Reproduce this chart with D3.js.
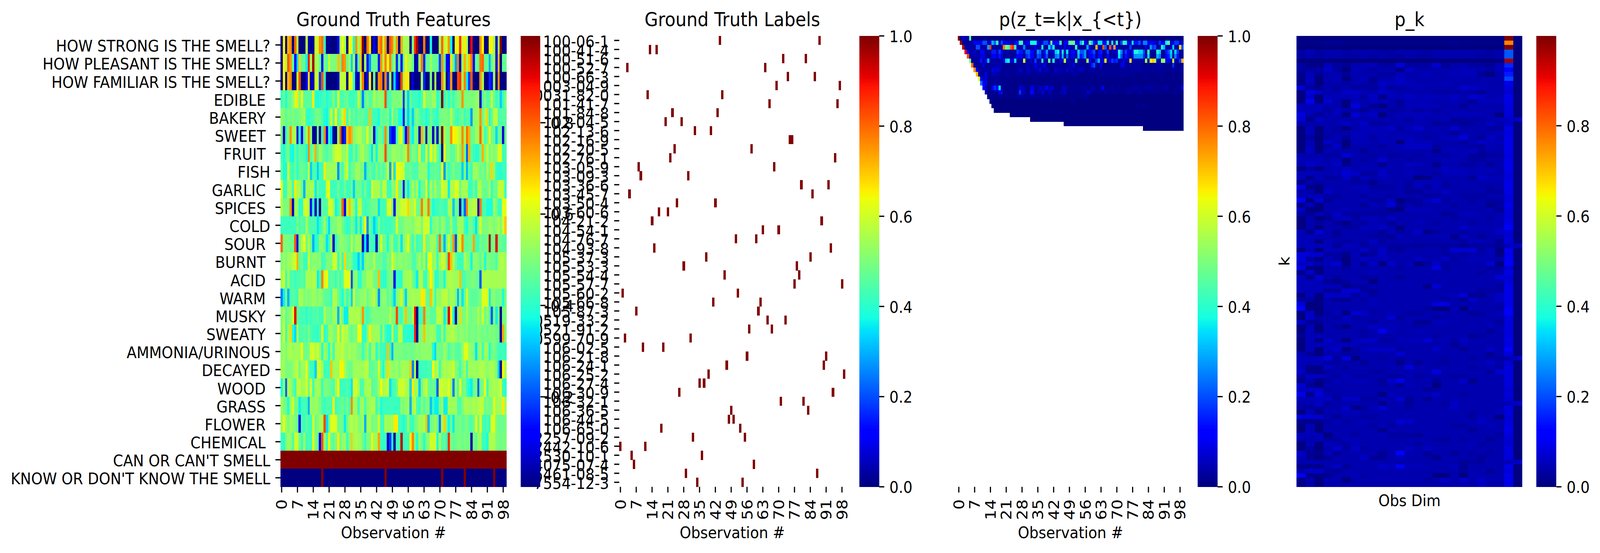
<!DOCTYPE html>
<html><head><meta charset="utf-8">
<script src="https://cdn.jsdelivr.net/npm/d3@7"></script>
<style>html,body{margin:0;padding:0;background:#fff;overflow:hidden;width:100%;height:100%}svg{display:block;width:100vw;height:100vh}text{font-family:"DejaVu Sans";fill:#000;white-space:pre}</style>
</head><body><svg id="c" viewBox="0 0 4586 1416" preserveAspectRatio="none"></svg>
<script>
// ---- values in percent ----
const featureNames=["HOW STRONG IS THE SMELL?","HOW PLEASANT IS THE SMELL?","HOW FAMILIAR IS THE SMELL?","EDIBLE ","BAKERY ","SWEET ","FRUIT ","FISH","GARLIC ","SPICES ","COLD","SOUR ","BURNT ","ACID ","WARM ","MUSKY ","SWEATY ","AMMONIA/URINOUS","DECAYED","WOOD ","GRASS ","FLOWER ","CHEMICAL ","CAN OR CAN'T SMELL","KNOW OR DON'T KNOW THE SMELL"];
const strongRow=[0,65,0,72,76,0,80,58,0,0,0,58,5,2,2,60,60,76,79,42,0,2,0,0,0,11,55,63,55,0,64,64,37,75,55,70,100,0,78,67,0,11,0,75,80,60,75,0,82,77,55,75,0,73,55,55,55,0,50,87,97,0,0,78,0,0,38,0,0,0,55,80,58,60,75,37,0,65,62,86,60,66,55,0,90,0,0,0,76,65,0,0,65,65,55,6,55,100,0,0];
const pleasantRow=[0,65,55,82,75,47,12,33,68,47,47,36,88,55,97,55,55,47,15,50,45,60,50,50,50,70,47,77,75,47,54,33,54,17,47,70,0,55,14,27,47,47,47,15,75,58,77,62,77,47,54,17,47,15,47,65,55,55,47,2,5,55,78,17,47,47,54,47,47,47,20,75,47,10,10,67,47,28,78,5,55,72,55,70,78,14,47,47,78,80,47,47,30,47,55,10,72,0,47,47];
const familiarRow=[0,65,0,72,76,0,0,60,82,0,0,11,68,5,5,60,60,18,82,42,0,0,0,0,0,6,58,58,58,0,63,63,40,5,5,58,78,0,13,66,0,50,0,76,78,0,77,16,55,0,33,12,0,83,56,66,66,0,8,0,0,0,55,16,0,0,50,0,55,0,3,76,56,0,15,75,0,0,83,86,55,77,36,18,82,0,0,0,75,55,0,0,16,13,55,0,76,0,0,0];
const edibleRow=[42,47,38,47,47,52,60,66,50,62,46,46,46,46,66,40,38,40,42,44,39,42,44,50,42,60,44,44,46,48,42,42,42,44,58,47,25,46,50,44,47,56,50,52,52,52,82,42,44,50,50,50,50,52,18,50,33,47,42,42,42,39,44,60,50,50,50,54,54,40,44,100,42,47,40,47,42,47,50,50,75,50,50,50,50,50,52,55,7,46,50,44,47,58,47,42,46,33,42,50];
const bakeryRow=[52,50,46,50,48,50,48,48,50,52,55,42,40,42,44,48,50,48,44,38,37,46,58,46,65,44,50,58,68,42,52,44,47,44,47,46,47,44,44,70,44,42,42,38,48,46,47,50,38,55,45,47,38,38,12,46,33,44,33,47,50,46,42,44,38,42,48,44,42,40,48,50,50,50,48,56,48,44,42,46,48,42,46,44,28,52,52,54,75,48,55,68,38,46,58,58,44,44,46,46];
const sweetRow=[50,5,42,50,75,55,56,8,40,10,45,55,76,52,2,2,50,2,42,76,10,42,34,2,2,55,82,4,15,70,76,72,50,54,56,56,50,50,62,48,54,8,40,48,48,42,76,48,18,10,10,42,58,64,38,12,82,42,36,50,50,6,72,50,4,50,50,6,50,6,50,100,56,50,50,76,65,65,60,56,76,55,79,72,48,48,54,54,79,55,42,48,65,48,48,34,48,48,8,48];
const fruitRow=[44,38,46,50,38,37,47,40,46,45,44,38,76,46,50,72,44,55,50,46,44,48,48,55,60,60,60,52,52,58,42,40,50,42,50,54,56,50,50,44,35,52,37,52,52,52,82,47,48,54,54,52,52,50,54,55,76,46,50,50,46,66,42,42,65,44,64,54,60,48,42,2,63,50,50,46,46,50,60,50,74,50,22,72,46,42,40,40,48,72,50,58,48,54,50,52,62,62,42,44];
const fishRow=[47,38,38,60,44,42,47,40,46,48,46,44,60,33,44,44,33,42,42,66,54,54,54,54,54,27,48,42,55,58,42,48,48,54,54,50,50,30,44,48,44,42,50,44,48,44,48,58,28,66,35,63,63,60,60,46,46,48,44,44,44,52,52,52,54,38,46,46,48,46,44,65,28,48,42,46,50,46,46,46,33,50,30,46,42,54,54,52,48,50,46,55,50,68,52,42,40,40,42,42];
const garlicRow=[62,42,42,54,54,42,66,55,55,48,30,54,54,55,55,36,48,42,42,42,60,64,42,42,42,48,42,42,48,42,42,48,33,48,48,48,42,48,42,40,62,55,55,55,48,58,58,42,42,52,50,66,48,48,14,48,36,48,55,48,55,38,48,48,63,42,55,48,55,48,48,62,58,58,36,56,56,62,62,48,55,55,55,42,42,48,42,56,56,48,48,48,55,42,48,48,58,58,58,42];
const spicesRow=[56,50,50,50,75,6,54,54,40,40,60,60,55,15,42,5,42,2,46,44,46,60,60,55,37,42,50,80,10,58,70,55,52,38,58,58,44,42,44,46,48,48,50,35,44,42,44,60,62,50,10,55,55,60,60,60,68,55,55,62,48,48,77,55,55,77,48,38,42,42,44,44,42,42,55,55,32,48,48,4,42,22,77,55,55,58,58,6,78,44,44,38,38,38,55,48,42,42,63,63];
const coldRow=[42,42,42,42,42,42,42,50,44,46,44,55,46,44,44,44,35,40,46,54,44,34,48,50,50,54,54,48,44,40,42,50,46,36,48,36,50,65,27,48,42,33,38,50,42,44,42,42,42,44,46,60,48,48,50,52,52,52,50,54,56,56,50,60,60,60,40,50,50,52,46,54,50,44,46,54,44,42,54,54,54,42,38,48,48,44,35,50,60,50,50,50,54,52,50,52,56,50,60,70];
const sourRow=[80,50,50,50,48,48,82,10,48,56,64,48,56,48,30,40,40,52,52,48,35,42,54,7,42,48,52,52,50,48,46,58,48,54,54,54,5,35,8,44,42,42,5,48,60,48,48,38,50,54,42,42,50,35,50,54,63,48,42,52,42,44,44,66,48,48,54,54,54,42,79,48,30,48,60,48,75,20,55,60,76,48,46,48,48,73,42,42,50,46,48,50,98,48,50,92,48,48,46,46];
const burntRow=[50,54,50,54,54,58,60,72,46,48,42,42,60,50,52,52,50,52,42,44,50,50,50,60,60,42,55,42,68,48,50,48,40,40,33,42,33,50,52,50,50,56,48,48,48,44,44,50,48,62,54,50,52,52,50,52,50,50,44,44,50,54,48,56,40,63,63,52,54,42,54,60,58,48,84,70,56,48,42,42,42,55,52,50,37,52,52,50,46,52,38,50,50,48,48,44,54,56,56,54];
const acidRow=[54,60,42,54,44,44,42,44,44,46,44,55,55,55,56,56,36,42,77,60,65,44,46,46,42,48,42,46,62,62,62,20,50,54,40,40,50,50,55,55,55,48,48,71,42,40,40,48,50,50,10,42,40,40,54,54,54,56,48,44,36,55,56,42,42,54,65,55,40,40,48,48,38,54,56,56,55,54,54,70,44,44,48,48,50,50,48,48,22,56,56,55,55,55,55,55,55,55,55,55];
const warmRow=[25,36,50,30,44,46,44,42,55,55,50,52,50,52,54,52,50,54,50,46,46,46,42,56,56,48,44,38,50,42,48,33,60,48,50,52,52,54,48,52,54,58,50,27,50,52,52,46,50,42,33,50,54,60,48,33,54,54,55,55,54,55,66,66,48,46,70,54,42,54,52,56,58,58,52,55,55,50,30,50,35,48,60,48,46,46,46,48,50,62,62,62,36,50,52,48,48,50,38,50];
const muskyRow=[50,56,46,50,52,60,92,48,44,42,44,40,44,42,44,44,46,42,42,56,50,50,48,54,54,30,56,48,36,36,56,56,55,56,56,52,75,46,42,46,50,50,50,50,50,50,50,50,56,50,50,83,44,42,50,70,48,48,56,90,0,42,42,77,50,50,46,46,46,58,58,56,36,48,92,64,38,2,48,68,50,50,55,50,48,50,50,56,50,60,48,52,46,22,50,36,50,2,50,50];
const sweatyRow=[50,60,42,54,68,38,34,58,44,44,46,44,50,44,42,42,40,44,62,40,42,54,54,50,48,65,48,60,56,56,50,46,50,50,64,64,40,40,50,66,54,54,54,54,42,54,42,38,38,60,42,42,57,57,40,40,40,40,38,88,2,50,50,70,54,52,54,54,52,42,42,54,42,54,55,56,56,54,50,52,52,50,52,48,50,50,48,52,50,48,50,48,50,50,50,48,48,2,73,50];
const ammoniaRow=[52,54,50,54,56,54,54,54,54,63,48,48,50,60,60,56,60,54,40,54,50,38,54,42,56,56,56,58,54,52,56,52,54,52,50,50,42,48,54,42,54,54,40,48,42,42,42,70,42,30,50,50,50,50,48,48,50,48,48,50,52,50,52,52,52,52,52,38,34,50,48,48,54,50,44,48,50,46,44,46,52,62,62,54,52,50,35,50,54,42,54,54,38,48,50,46,42,42,42,42];
const decayedRow=[54,54,50,50,50,52,56,58,48,54,54,62,48,42,42,33,60,60,54,42,42,42,70,54,54,54,65,65,55,50,48,48,54,54,54,54,54,56,58,46,46,48,48,60,46,38,50,68,54,52,52,54,50,54,56,54,54,69,25,56,2,42,42,42,42,44,42,65,54,56,42,54,56,54,56,56,60,50,50,42,50,55,42,54,54,54,54,54,56,56,54,52,54,56,54,50,33,2,65,55];
const woodRow=[38,52,22,56,54,48,42,58,58,54,55,60,48,60,42,54,55,54,42,50,50,48,46,44,54,65,42,42,42,44,42,35,60,60,55,44,44,54,55,56,46,46,48,54,64,55,56,60,35,42,44,48,60,60,60,56,55,33,66,54,54,32,48,55,60,48,46,48,46,22,60,60,58,58,62,54,25,54,42,64,48,50,42,38,36,48,50,22,48,50,62,42,54,54,56,54,56,60,42,40];
const grassRow=[54,50,48,38,54,60,48,50,36,42,44,42,30,54,52,54,52,50,44,42,44,44,44,66,42,44,46,48,44,48,44,76,54,54,42,54,54,44,52,54,56,56,42,48,38,42,42,42,42,42,42,42,42,52,50,52,54,30,54,58,44,42,50,46,50,50,32,42,36,36,48,54,36,36,55,54,54,54,44,44,50,55,55,54,54,56,54,56,58,58,48,50,48,50,62,54,55,55,66,54];
const flowerRow=[54,62,54,50,54,52,50,48,10,44,42,46,42,42,60,48,50,54,56,83,34,48,62,62,62,48,50,48,36,48,54,58,54,56,52,50,54,30,54,56,48,50,50,60,42,42,56,54,54,54,66,66,42,42,38,42,54,42,42,48,50,55,54,56,70,30,48,50,54,48,25,55,69,48,37,48,36,50,48,50,46,48,50,46,44,48,62,48,62,44,42,44,42,62,62,50,48,48,48,50];
const chemicalRow=[42,40,50,54,52,44,60,60,48,42,54,42,44,42,62,50,48,12,82,54,42,65,48,46,50,66,48,52,54,42,50,69,54,56,54,54,48,42,50,50,65,54,54,74,42,40,42,6,18,40,2,42,44,95,42,42,42,66,77,50,38,54,48,40,50,52,60,60,60,38,56,44,46,42,86,50,46,48,50,50,48,50,48,50,4,50,46,54,54,42,42,38,56,56,56,50,50,48,50,50];
const canRow=[100,100,100,100,100,100,100,100,100,100,100,100,100,100,100,100,100,100,100,100,100,100,100,100,100,100,100,100,100,100,100,100,100,100,100,100,100,100,100,100,100,100,100,100,100,100,100,100,100,100,100,100,100,100,100,100,100,100,100,100,100,100,100,100,100,100,100,100,100,100,100,100,100,100,100,100,100,100,100,100,100,100,100,100,100,100,100,100,100,100,100,100,100,100,100,100,100,100,100,100];
const knowRow=[0,0,0,0,0,0,0,0,0,0,0,0,0,0,0,0,0,0,100,0,0,0,0,0,0,0,0,0,0,0,0,0,0,0,0,0,0,0,0,0,0,0,0,0,0,0,100,0,0,0,0,0,0,0,0,0,0,0,0,0,0,0,0,0,0,0,0,0,0,0,0,100,0,0,0,0,0,0,0,0,0,100,0,0,0,0,0,0,0,0,0,0,0,0,100,0,0,0,0,0];
const featureRows=[strongRow,pleasantRow,familiarRow,edibleRow,bakeryRow,sweetRow,fruitRow,fishRow,garlicRow,spicesRow,coldRow,sourRow,burntRow,acidRow,warmRow,muskyRow,sweatyRow,ammoniaRow,decayedRow,woodRow,grassRow,flowerRow,chemicalRow,canRow,knowRow];

const obsTicks=[0,7,14,21,28,35,42,49,56,63,70,77,84,91,98];
const labelNames=["100-06-1","100-41-4","100-51-6","100-52-7","100-66-3","1003-04-9","10031-82-0","101-41-7","101-84-8","102-04-5","102-13-6","102-16-9","102-20-5","102-76-1","103-05-9","103-09-3","103-36-6","103-45-7","103-50-4","103-60-6","104-21-2","104-54-1","104-76-7","104-93-8","105-37-3","105-53-3","105-54-4","105-57-7","105-60-2","105-66-8","105-87-3","10519-33-2","10521-91-2","10599-70-9","106-02-5","106-21-8","106-24-1","106-25-2","106-27-4","106-30-9","106-32-1","106-36-5","106-44-5","106-65-0","2257-09-2","2442-10-6","2530-10-1","4075-07-4","5461-08-5","7554-12-3"];
const labelObs=[[44,88],[13,16],[72,82],[3,64],[74,86],[69,97],[12,45],[66,96],[23,43],[20,27],[33,40],[75,76],[24,58],[22,95],[8,68],[9,30],[80,92],[4,85],[25,42],[17,21],[14,89],[63,70],[51,60],[15,93],[38,84],[28,78],[46,79],[77,98],[1,52],[41,62],[7,61],[65,73],[57,67],[2,31],[10,19],[56,91],[47,90],[39,99],[35,37],[26,94],[71,81],[49,83],[48,50],[18,53],[32,55],[0,11],[5,36],[6,59],[29,87],[34,54]];

// p(z_t=k|x_{<t}): first observation of each row, then that row's values from there on
const pzStart=[0,1,2,3,4,5,6,7,8,9,10,11,12,13,14,15,16,23,32,47,82];
const pzRow0=[100,2,5,3,2,45];
const pzRow1=[98,2,3,3,2,4,10,10,8,11,20,20,6,8,30,22,42,5,20,10,10,7,7,5,10,15,42,42,5,12,12,37,37,37,12,4,10,20,20,12,52,10,13,13,42,0,13,13,47,47,47,10,10,30,42,12,5,50,33,15,8,35,35,10,10,37,4,38,5,43,3,20,42,37,10,5,36,14,14,20,8,25,25,10,10,10,8,4,17,10,10,38,45,8,8,18,18,6,6];
const pzRow2=[96,3,3,3,3,2,20,20,3,3,3,28,85,2,2,2,2,2,78,50,45,80,86,42,4,4,4,25,3,3,3,3,10,3,3,38,2,2,33,20,37,2,2,6,3,10,3,8,3,3,42,2,2,2,2,28,8,2,2,72,3,3,82,22,3,83,12,75,8,2,2,3,3,3,18,2,2,2,2,2,2,10,2,27,17,20,3,3,38,30,3,3,3,33,3,3,68,20];
const pzRow3=[92,12,3,5,5,3,3,10,10,3,3,3,15,15,6,18,10,3,3,3,3,3,3,18,14,14,3,22,22,11,11,3,27,22,3,13,27,3,6,6,32,37,8,38,4,35,4,13,13,3,33,20,20,27,3,12,15,20,2,13,15,3,3,18,2,5,3,8,40,25,4,18,10,4,10,38,38,33,33,20,2,42,2,2,2,40,33,2,2,15,20,33,3,33,18,2,2];
const pzRow4=[83,3,4,4,4,3,9,9,2,2,2,10,10,5,14,8,2,2,2,2,2,2,12,10,10,2,16,20,10,10,2,20,18,2,10,20,2,4,4,24,27,6,30,3,23,3,10,10,2,30,14,18,27,2,10,12,15,2,10,12,2,2,13,2,4,2,6,35,20,3,14,8,3,8,27,27,27,27,17,2,33,2,2,2,30,25,2,2,12,15,30,2,25,14,2,2];
const pzRow5=[50,3,2,2,5,14,3,10,30,3,3,3,3,3,3,10,33,38,8,8,34,3,3,3,60,3,3,8,3,18,3,3,40,3,3,48,3,38,3,3,9,3,58,3,5,3,3,47,2,2,2,2,55,10,3,3,18,30,4,10,67,3,10,18,14,16,3,3,10,5,5,68,3,3,3,3,3,3,55,3,63,70,57,3,3,52,55,10,10,3,60,3,3,18,72];
const pzRow6=[80,2,2,2,2,8,2,2,2,3,4,4,4,4,1,1,1,1,1,1,3,2,2,2,4,4,2,4,10,4,4,4,9,2,2,2,2,3,2,4,2,2,2,5,3,9,1,3,3,2,2,2,3,15,20,2,1,10,1,1,1,1,1,3,1,1,8,10,2,1,5,2,3,3,3,2,1,1,1,2,2,2,2,5,3,1,1,1,1,17,2,1,1,1];
const pzRow7=[76,10,3,3,3,3,3,2,9,6,7,7,2,2,2,2,2,2,2,2,6,5,2,3,4,3,3,4,5,9,2,5,5,2,2,2,6,4,4,3,2,7,2,5,4,2,5,5,5,2,2,3,3,3,2,2,2,2,2,2,2,2,2,2,2,2,3,3,2,2,3,3,3,3,2,2,2,2,2,3,2,2,2,2,2,2,2,2,3,2,2,2,2];
const pzRow8=[72,3,3,2,10,2,1,5,5,3,3,2,2,2,2,2,2,2,3,2,2,2,3,3,2,2,2,2,2,2,2,2,2,2,3,3,3,2,2,2,2,2,2,3,3,2,1,1,1,2,1,2,1,2,2,2,2,2,2,2,2,2,2,2,2,2,2,2,2,2,2,1,1,1,2,2,1,1,1,1,1,2,2,1,1,1,1,1,1,1,1,1];
const pzRow9=[62,12,5,8,3,1,1,2,2,2,1,1,2,1,1,1,1,1,1,1,1,1,1,1,1,1,1,1,1,1,1,1,1,1,1,1,1,2,1,1,1,1,1,1,1,1,1,1,1,1,1,1,1,1,1,1,1,1,1,1,1,1,1,1,1,1,1,1,1,1,1,1,1,1,1,1,1,1,1,1,1,1,1,1,1,1,1,1,1,1,1];
const pzRow10=[23,12,12,1,1,2,3,2,1,2,2,1,1,1,1,1,1,1,1,1,1,1,1,1,1,1,1,1,1,1,1,1,1,1,1,1,1,1,1,1,1,1,1,1,1,1,1,1,1,1,1,1,1,1,1,1,1,1,1,1,1,1,1,1,1,1,1,1,1,1,1,1,1,1,1,1,1,1,1,1,1,1,1,1,1,1,1,1,1,1];
const pzRow11=[12,5,1,1,10,17,12,33,2,1,1,1,1,1,1,1,8,5,5,1,1,8,8,2,3,6,3,6,10,4,8,3,1,1,1,5,5,3,1,1,2,2,1,2,2,3,2,1,4,3,1,1,5,10,1,1,1,3,1,1,2,1,1,2,1,1,3,3,3,2,1,2,3,3,3,3,1,2,1,1,3,3,1,1,1,2,1,1,7];
const pzRow12=[5,1,1,1,3,1,9,13,1,1,1,1,1,1,1,17,5,5,1,1,13,12,1,3,2,8,4,1,5,4,1,1,1,4,4,6,1,1,2,1,1,1,1,3,1,5,5,1,1,1,1,1,1,3,1,1,1,2,1,1,1,1,1,3,3,1,1,1,3,2,1,1,1,1,1,2,1,1,1,1,1,1,1,1,2,1,1];
const pzRow13=[1,1,1,1,1,1,1,1,1,1,1,1,1,2,2,2,2,1,2,2,2,2,1,2,2,1,2,1,3,1,1,1,1,1,1,1,1,1,1,1,1,1,1,2,2];
const pzRow14=[0,0,0,0,0,0,0,0,0,0,0,0,0,0,0,0,0,0,0,0,0,0,0,0,0,0,0,2,0,0,0,0,0,0,0,0,2,2];
const pzRow15=[0,0,0,0,0,0,0,0,0,0,0,0,0,0,0,0,0,0,0,0,0,0,0,0,0,0,0,0,0,0,0,0,0,0,0,0,0,0,0,0,0,0,0,0,0,0,0,0,0,0,0,0,0,0,0,0,0,0,0,0,0,0,0,0,2,0,1,0,2];
const pzRow16=[0],pzRow17=[0],pzRow18=[0],pzRow19=[0],pzRow20=[0];
const pzRows=[pzRow0,pzRow1,pzRow2,pzRow3,pzRow4,pzRow5,pzRow6,pzRow7,pzRow8,pzRow9,pzRow10,pzRow11,pzRow12,pzRow13,pzRow14,pzRow15,pzRow16,pzRow17,pzRow18,pzRow19,pzRow20];

// p_k: one row per k, one value per observation dimension
const pkRows=[
[0,0,0,0,0,0,0,0,0,0,0,0,0,0,0,0,0,0,0,0,0,0,0,100,0],
[1,1,1,2,2,1,1,1,1,1,1,1,1,1,1,1,1,2,1,1,1,1,1,77,0],
[0,0,0,0,0,0,0,0,0,0,0,0,0,0,0,0,0,0,0,0,0,0,0,100,0],
[3,5,3,4,4,3,4,4,4,3,3,4,4,4,3,4,4,4,4,4,4,3,4,21,0],
[3,4,3,4,4,3,3,4,3,4,3,3,4,3,3,4,4,4,4,4,3,3,4,21,0],
[0,0,0,0,0,0,0,0,0,0,0,0,0,0,0,0,0,0,0,0,0,0,0,97,0],
[3,1,1,5,3,2,4,5,5,3,3,8,3,3,3,7,2,4,4,3,3,2,5,16,0],
[3,3,3,6,3,0,5,4,3,4,4,0,6,4,4,4,4,4,5,5,4,3,5,12,0],
[1,5,2,4,4,2,4,4,4,3,3,5,4,4,5,4,4,5,5,5,2,0,4,15,0],
[1,5,0,4,5,0,4,5,2,4,4,6,4,4,4,4,4,4,4,4,4,4,4,19,0],
[1,5,0,4,4,3,4,4,2,6,5,6,5,4,4,4,5,4,4,4,4,4,4,9,0],
[7,3,2,4,3,4,3,3,3,5,3,3,4,5,4,4,4,4,6,6,5,4,4,8,0],
[0,8,6,4,4,6,6,5,4,6,5,4,4,4,4,3,3,3,4,3,2,4,4,7,0],
[0,6,0,5,5,5,5,3,6,1,5,5,6,5,5,5,5,6,4,7,6,4,5,9,0],
[0,10,0,7,4,0,5,4,5,5,4,2,5,5,5,4,4,5,4,2,5,5,5,9,0],
[5,5,5,4,4,0,8,4,2,0,4,3,5,5,5,5,4,4,2,4,4,4,4,8,0],
[5,5,5,3,5,4,4,2,4,4,3,3,4,3,4,3,4,4,4,4,4,4,4,8,0],
[8,4,2,4,5,0,7,5,6,0,4,5,5,5,5,4,4,5,5,5,5,4,0,8,0],
[7,1,6,4,4,4,4,4,4,4,4,4,3,5,4,4,5,2,3,3,3,4,5,6,6],
[4,4,4,4,4,6,4,6,3,3,4,4,4,4,4,2,3,3,2,3,4,6,4,6,0],
[0,5,0,4,3,0,4,5,5,5,6,3,5,7,4,5,4,7,4,4,4,3,3,9,0],
[0,5,0,4,3,4,5,5,5,5,4,4,4,4,4,4,4,2,4,4,4,4,5,8,0],
[0,3,0,3,5,2,5,5,3,5,4,5,5,4,3,4,5,5,8,4,2,6,4,9,0],
[0,5,0,6,4,0,5,5,4,5,5,0,6,5,5,4,4,4,3,4,6,5,5,9,0],
[0,5,0,3,6,0,4,4,4,3,4,5,6,6,6,3,4,4,4,3,3,5,4,9,0],
[0,6,0,5,4,4,4,2,4,4,4,4,4,4,4,1,5,5,4,6,3,4,4,9,0],
[4,4,4,3,3,7,4,4,3,4,3,3,4,3,4,4,3,4,5,2,2,3,3,8,0],
[5,5,5,4,5,0,4,3,4,7,4,4,3,4,4,4,5,5,4,3,3,4,4,9,0],
[4,6,5,4,6,1,4,4,4,1,4,4,6,5,4,1,4,4,3,3,4,2,4,9,0],
[0,3,0,4,4,6,4,5,4,5,4,4,4,4,4,4,6,5,5,4,5,5,4,9,0],
[5,5,5,4,5,7,6,3,3,6,4,4,5,4,4,3,5,5,5,4,5,4,4,8,0],
[5,1,5,3,3,6,3,5,4,5,4,4,4,0,1,4,4,4,4,2,6,5,5,8,0],
[1,4,3,4,4,4,3,3,1,4,4,4,3,5,5,5,3,4,4,4,4,4,4,9,0],
[8,1,0,4,4,4,5,5,3,3,3,4,3,5,3,5,3,4,4,4,4,3,4,9,0],
[4,4,0,6,4,4,4,5,4,4,4,4,2,2,4,4,6,4,4,4,4,3,3,9,0],
[5,5,5,3,3,4,4,3,4,4,3,4,4,4,3,3,4,4,3,3,3,4,4,8,0],
[10,0,7,2,4,4,4,5,3,3,6,0,2,3,5,7,3,4,4,3,4,3,3,8,0],
[1,5,0,4,4,4,4,2,5,4,7,2,4,3,4,4,4,3,4,4,4,1,3,9,0],
[6,0,0,4,4,5,4,4,4,3,1,0,5,5,5,4,4,4,4,4,4,4,2,8,0],
[3,2,4,3,6,3,3,3,3,3,3,4,4,4,4,4,2,3,5,5,4,4,4,8,0],
[0,4,0,2,5,6,3,5,5,4,6,4,4,4,4,4,4,3,4,4,4,3,5,8,0],
[0,4,3,4,2,0,4,3,5,4,2,4,4,5,4,3,4,4,4,3,4,4,4,9,0],
[0,4,0,4,4,3,3,5,5,6,4,0,4,4,4,4,4,4,6,5,4,4,5,12,0],
[5,1,7,4,2,4,4,4,4,2,5,3,4,6,1,3,4,4,3,4,4,4,6,7,0],
[5,5,5,4,3,4,4,4,3,3,2,5,4,4,4,4,5,1,5,4,2,4,4,7,0],
[5,5,0,5,4,3,4,3,6,3,4,4,4,4,4,4,4,4,3,5,5,4,2,8,0],
[5,5,5,5,2,5,5,3,4,4,3,3,3,2,3,3,3,3,2,3,3,3,2,5,5],
[0,5,0,5,5,4,4,6,3,6,3,2,4,4,4,4,3,7,7,7,3,5,0,10,0],
[8,7,7,3,3,1,5,2,3,6,4,4,4,4,4,4,3,4,3,4,4,5,1,9,0],
[8,3,0,5,3,0,4,6,5,5,4,4,4,6,4,4,6,3,4,5,5,4,4,10,0],
[6,6,4,5,7,0,5,2,6,0,6,4,5,0,3,6,3,4,4,4,4,7,0,12,0],
[8,1,0,4,4,3,4,4,4,4,4,3,4,4,4,8,3,4,4,4,4,3,3,7,0],
[1,6,0,4,4,4,4,4,5,4,4,4,4,4,4,4,4,4,4,4,3,4,4,9,0],
[5,1,7,4,3,4,4,3,3,4,4,2,4,4,4,4,4,4,4,4,4,4,8,7,0],
[5,5,5,2,1,3,4,4,0,4,4,4,4,4,4,4,4,4,4,4,4,4,4,8,0],
[5,5,5,5,5,1,3,3,4,4,4,4,4,4,1,7,4,4,4,4,4,4,3,9,0],
[5,5,5,2,2,7,7,3,2,4,4,4,4,4,4,4,4,4,4,4,3,3,3,9,0],
[0,5,0,6,6,6,3,5,3,4,4,4,4,4,4,4,4,5,7,2,2,4,6,9,0],
[3,3,0,4,2,2,4,3,5,4,4,4,4,4,4,4,3,4,2,6,4,4,6,9,0],
[8,0,0,4,4,4,4,4,5,4,4,4,4,4,4,8,8,4,4,4,4,4,4,9,0],
[12,0,0,4,4,4,4,4,4,4,4,4,4,4,3,0,0,5,0,5,4,4,3,10,0],
[0,6,0,3,5,0,7,6,3,4,5,4,3,3,4,4,4,4,4,2,3,4,5,12,0],
[0,6,3,4,3,6,3,4,4,4,7,3,4,4,4,3,4,4,4,4,4,4,4,8,0],
[6,2,2,4,4,5,4,4,3,4,4,4,4,2,2,5,5,4,4,4,4,4,3,8,0],
[0,5,0,4,3,0,4,4,6,5,5,4,4,3,4,4,4,4,4,4,4,5,4,8,0],
[0,5,0,4,4,4,4,3,4,9,5,4,4,5,4,4,4,4,4,4,4,2,4,8,0],
[2,5,5,4,4,4,4,3,4,4,4,4,4,4,4,3,4,4,4,2,3,4,4,8,0],
[0,5,1,6,4,0,5,6,6,3,3,5,5,5,7,4,5,3,6,4,4,4,4,9,0],
[0,5,5,5,5,5,5,4,4,4,4,4,4,4,4,4,4,2,4,4,4,4,4,8,0],
[0,5,0,5,6,0,3,5,6,6,6,3,4,4,4,6,4,4,2,4,4,6,4,12,0],
[4,2,0,4,4,3,3,4,4,4,4,7,4,4,4,4,4,4,4,4,4,2,4,8,0],
[5,5,5,8,3,8,0,4,4,3,4,3,4,4,4,4,3,4,4,3,4,3,3,4,6],
[5,5,5,3,3,4,4,2,4,4,4,1,4,2,4,3,3,4,4,4,4,6,4,7,0],
[5,1,1,6,4,3,4,4,4,4,4,4,8,4,4,4,4,4,4,3,4,4,3,8,0],
[6,1,1,3,4,4,4,4,3,3,4,4,4,4,4,8,4,4,4,4,4,3,7,8,0],
[3,6,6,4,3,5,3,3,4,4,3,3,5,3,4,4,4,3,3,4,4,4,4,8,0],
[1,4,0,3,5,4,5,5,4,2,6,9,4,4,4,2,4,4,6,1,4,4,4,8,0],
[7,2,0,4,4,4,4,4,4,3,4,2,5,4,4,0,4,4,4,4,4,4,4,8,0],
[6,6,6,3,4,4,4,4,4,4,4,4,4,4,2,3,4,4,4,4,4,4,4,7,0],
[9,1,8,4,3,4,4,4,4,0,5,4,4,4,5,6,4,4,3,4,4,4,4,8,0],
[5,5,5,6,3,6,6,3,3,5,4,7,2,4,2,4,4,4,4,4,4,4,4,7,0],
[4,4,6,3,4,4,4,4,4,1,4,4,2,4,4,4,3,6,4,4,4,4,4,5,6],
[3,3,3,4,4,6,1,2,5,7,4,4,3,4,4,4,4,6,4,4,4,4,4,8,0],
[0,5,1,4,4,5,5,4,4,4,4,4,4,4,4,4,4,4,4,3,4,4,5,8,0],
[8,7,7,4,2,4,4,3,3,4,4,4,4,4,4,4,4,4,4,3,5,4,0,7,0],
[1,1,1,3,5,3,4,5,4,4,4,7,6,4,4,4,4,4,4,4,6,4,4,8,0],
[0,5,0,4,4,4,4,4,3,5,3,4,4,4,4,4,4,3,3,4,4,5,4,8,0],
[0,5,0,4,4,4,4,4,4,1,4,4,4,4,4,4,4,4,4,2,4,4,4,9,0],
[5,5,5,0,4,4,3,4,4,5,3,3,3,2,4,4,4,4,4,4,4,4,3,8,0],
[4,4,5,3,3,5,5,4,4,4,4,4,4,4,4,3,2,4,3,4,4,2,4,7,0],
[0,5,0,5,4,3,5,4,4,4,4,4,4,3,4,4,4,4,4,5,3,4,4,7,0],
[0,3,0,4,7,3,6,3,4,4,4,4,6,4,6,4,4,4,4,4,4,4,4,8,0],
[6,2,1,5,2,4,4,4,4,2,4,11,4,4,2,4,4,2,4,3,4,3,4,8,0],
[5,2,0,2,4,4,4,6,2,2,4,5,4,4,3,1,4,4,4,4,2,4,4,8,0],
[4,4,4,4,4,4,4,4,4,4,4,4,4,4,4,4,4,4,2,3,3,4,4,5,6],
[1,1,1,4,6,2,4,4,4,6,5,10,5,5,4,4,4,5,2,4,4,4,4,9,0],
[4,6,6,3,2,4,4,4,4,4,4,4,4,4,4,4,4,4,2,4,4,2,4,8,0],
[10,1,1,2,4,4,5,3,4,4,4,4,4,4,4,0,0,4,0,5,4,4,4,9,0],
[1,4,0,4,4,0,4,4,4,4,4,4,4,4,3,4,6,4,6,4,6,4,4,9,0],
[1,4,0,4,4,4,4,4,4,4,4,4,4,4,4,4,4,4,4,4,6,4,4,9,0]];

// ---- drawing ----
const yTop=92,yBottom=1246.5,fs=41.67,tw=3.33,tl=14.6;
const svg=d3.select("#c");
const ch=c=>d3.scaleLinear().domain(c[0]).range(c[1]).clamp(true);
const R=ch([[0,.35,.66,.89,1],[0,0,1,1,.5]]),G=ch([[0,.125,.375,.64,.91,1],[0,0,1,1,0,0]]),B=ch([[0,.11,.34,.65,1],[.5,1,1,0,0]]);
const jet=v=>d3.rgb(R(v)*255,G(v)*255,B(v)*255).toString();

function cells(g,rows,xs,ys,val,color){
  rows.forEach((row,r)=>row.forEach((v,c)=>{ if(v==null) return;
    g.append("rect").attr("x",xs(c)).attr("y",ys(r)).attr("width",xs.bandwidth()+.4).attr("height",ys.bandwidth()+.4)
     .attr("fill",color(val(v))).attr("shape-rendering","crispEdges");}));
}
function xAxis(left,right,xs){
  const g=svg.append("g");
  obsTicks.forEach(t=>{const x=xs(t)+xs.bandwidth()/2;
    g.append("line").attr("x1",x).attr("x2",x).attr("y1",yBottom).attr("y2",yBottom+tl).attr("stroke","#000").attr("stroke-width",tw);
    g.append("text").attr("transform",`translate(${x},${yBottom+32}) rotate(-90)`).attr("text-anchor","end").attr("dy",".36em").attr("font-size",fs).text(t);});
  g.append("text").attr("x",(left+right)/2).attr("y",1378).attr("text-anchor","middle").attr("font-size",fs).text("Observation #");
}
function yAxis(left,names,ys){
  const g=svg.append("g");
  names.forEach((n,i)=>{const y=ys(i)+ys.bandwidth()/2;
    g.append("line").attr("x1",left-tl).attr("x2",left).attr("y1",y).attr("y2",y).attr("stroke","#000").attr("stroke-width",tw);
    g.append("text").attr("x",left-tl-14.6).attr("y",y).attr("dy",".41em").attr("text-anchor","end").attr("font-size",fs).text(n);});
}
function title(cx,t){svg.append("text").attr("x",cx).attr("y",67).attr("text-anchor","middle").attr("font-size",50).text(t);}
function colorbar(x,w,vmin,vmax,ticks){
  const g=svg.append("g");
  const y=d3.scaleLinear().domain([vmin,vmax]).range([yBottom,yTop]);
  d3.range(0,256).forEach(i=>{const a=yBottom+(yTop-yBottom)*i/256,b=yBottom+(yTop-yBottom)*(i+1)/256;
    g.append("rect").attr("x",x).attr("width",w).attr("y",b).attr("height",a-b+.5).attr("fill",jet(i/255)).attr("shape-rendering","crispEdges");});
  ticks.forEach(t=>{
    g.append("line").attr("x1",x+w).attr("x2",x+w+tl).attr("y1",y(t)).attr("y2",y(t)).attr("stroke","#000").attr("stroke-width",tw);
    g.append("text").attr("x",x+w+tl+14.6).attr("y",y(t)).attr("dy",".38em").attr("font-size",fs).text(t.toFixed(1));});
}
const cbTicks=[0,.2,.4,.6,.8,1],cbTicksInner=[.2,.4,.6,.8],cbTicks4=[0,.2,.4,.6,.8];
const obs=d3.range(100);
const pct=v=>v/100;

// panel 1
const x1=d3.scaleBand().domain(obs).range([804,1452]);
const y1=d3.scaleBand().domain(d3.range(featureRows.length)).range([yTop,yBottom]);
cells(svg.append("g"),featureRows,x1,y1,pct,jet);
xAxis(804,1452,x1);yAxis(804,featureNames,y1);title(1128,"Ground Truth Features");

// panel 2
const x2=d3.scaleBand().domain(obs).range([1775,2423]);
const y2=d3.scaleBand().domain(d3.range(labelNames.length)).range([yTop,yBottom]);
const labelRows=labelObs.map(p=>obs.map(o=>p.includes(o)?1:null));
cells(svg.append("g"),labelRows,x2,y2,v=>v,jet);
xAxis(1775,2423,x2);yAxis(1775,labelNames,y2);title(2099,"Ground Truth Labels");
colorbar(1492,57,.003,.99,cbTicksInner);
colorbar(2463,57,0,1,cbTicks);

// panel 3
const x3=d3.scaleBand().domain(obs).range([2745,3392]);
const y3=d3.scaleBand().domain(obs).range([yTop,yBottom]);
const pzFull=pzRows.map((row,r)=>obs.map(o=>o<pzStart[r]?null:(row[o-pzStart[r]]??0)));
cells(svg.append("g"),pzFull,x3,y3,pct,jet);
xAxis(2745,3392,x3);title(3068,"p(z_t=k|x_{<t})");
colorbar(3433,57,0,1,cbTicks);

// panel 4
const x4=d3.scaleBand().domain(d3.range(25)).range([3716,4363]);
const y4=d3.scaleBand().domain(obs).range([yTop,yBottom]);
cells(svg.append("g"),pkRows,x4,y4,pct,jet);
title(4040,"p_k");
svg.append("text").attr("x",4040).attr("y",1296).attr("text-anchor","middle").attr("font-size",fs).text("Obs Dim");
svg.append("text").attr("transform","translate(3696,669) rotate(-90)").attr("text-anchor","middle").attr("font-size",fs).text("k");
colorbar(4403,58,0,.999,cbTicks4);
</script></body></html>
